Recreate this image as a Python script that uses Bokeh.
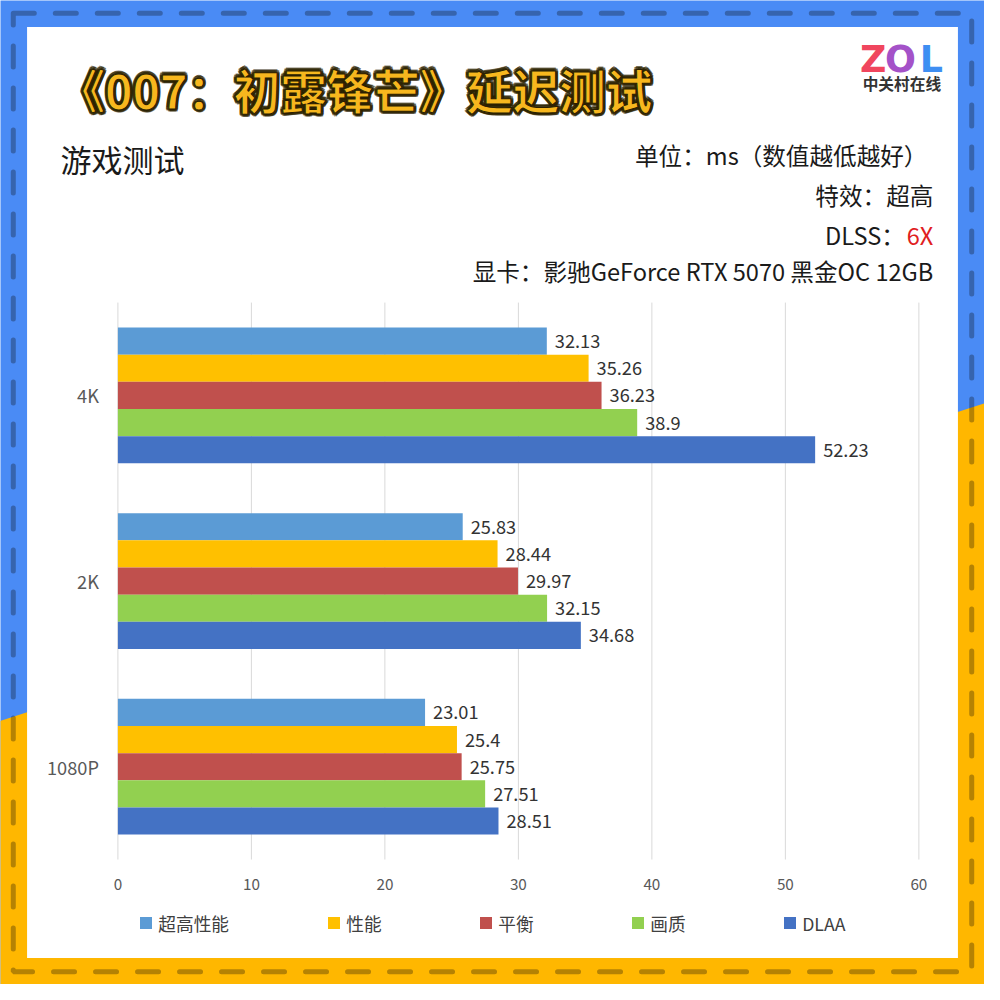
from bokeh.plotting import figure
from bokeh.models import (Range1d, Label, BoxAnnotation, PolyAnnotation, FixedTicker,
                          Legend, LegendItem, ColumnDataSource, LinearAxis)
from bokeh.core.properties import value
from bokeh.embed import file_html
from bokeh.resources import INLINE

# ---------------- data ----------------
categories = ["1080P", "2K", "4K"]          # bottom -> top
series_names = ["超高性能", "性能", "平衡", "画质", "DLAA"]
series_colors = ["#5B9BD5", "#FFC000", "#C0504D", "#92D050", "#4472C4"]
v_ultra_perf = [23.01, 25.83, 32.13]
v_perf = [25.4, 28.44, 35.26]
v_balanced = [25.75, 29.97, 36.23]
v_quality = [27.51, 32.15, 38.9]
v_dlaa = [28.51, 34.68, 52.23]
series_values = [v_ultra_perf, v_perf, v_balanced, v_quality, v_dlaa]
x_ticks = [0, 10, 20, 30, 40, 50, 60]

title_text = "《007：初露锋芒》延迟测试"
subtitle_text = "游戏测试"
info_lines = ["单位：ms（数值越低越好）", "特效：超高", "DLSS：", "显卡：影驰GeForce RTX 5070 黑金OC 12GB"]
dlss_value = "6X"

FONT = "Noto Sans CJK SC"

# ---------------- layout geometry (reference pixels, scaled to canvas) ----------------
W = H = 984
K = W / 1000.0
PL, PR, PT, PB = 119.3, 933.3, 307.0, 873.0   # plot area in reference pixels
XMIN, XMAX = 0, 60
ux = (PR - PL) / (XMAX - XMIN)
band = (PB - PT) / len(categories)
x_start = (0 - PL) / ux
x_end = (1000 - PL) / ux
c0 = PB - band / 2
y_start = (c0 - 1000) / band
y_end = c0 / band

def fs(v):
    return f"{v * K:.1f}px"

p = figure(width=W, height=H, output_backend="svg", toolbar_location=None,
           x_range=Range1d(x_start, x_end), y_range=Range1d(y_start, y_end),
           min_border=0, min_border_left=0, min_border_right=0,
           min_border_top=0, min_border_bottom=0,
           x_axis_type=None, y_axis_type=None)
p.border_fill_color = "#4A8BF5"
p.background_fill_color = "#4A8BF5"
p.outline_line_color = None
p.xgrid.visible = False
p.ygrid.visible = False

# background decorations (canvas units)
p.add_layout(PolyAnnotation(xs=[-5, 990, 990, -5], ys=[0.732 * W + 1.6, 0.409 * W - 1.6, 990, 990],
                            xs_units="canvas", ys_units="canvas",
                            fill_color="#FFB700", fill_alpha=1, line_alpha=0, level="image"))
p.add_layout(BoxAnnotation(left=27 * K, right=973 * K, top=27 * K, bottom=973 * K,
                           left_units="canvas", right_units="canvas", top_units="canvas", bottom_units="canvas",
                           fill_color="white", fill_alpha=1, line_alpha=0, level="image"))
p.add_layout(BoxAnnotation(left=13 * K, right=987 * K, top=13 * K, bottom=987 * K,
                           left_units="canvas", right_units="canvas", top_units="canvas", bottom_units="canvas",
                           fill_alpha=0, line_color="#0A0A0A", line_width=5, line_dash="21 21",
                           line_cap="round", level="image"))

# grid lines limited to the plot area
p.segment(x0=x_ticks, x1=x_ticks, y0=[-0.5] * len(x_ticks), y1=[len(categories) - 0.5] * len(x_ticks),
          line_color="#D9D9D9", line_width=1)

# ---------------- bars ----------------
cat_pos = list(range(len(categories)))
bar_h = 27.6 / band
offsets = [2 * bar_h, bar_h, 0, -bar_h, -2 * bar_h]
renderers = []
for name, vals, col, off in zip(series_names, series_values, series_colors, offsets):
    src = ColumnDataSource(dict(y=[c + off for c in cat_pos], val=vals, lab=[str(v) for v in vals]))
    r = p.hbar(y="y", right="val", left=0, height=bar_h, fill_color=col, line_color=None, source=src)
    renderers.append(r)
    p.text(x="val", y="y", text="lab", source=src,
           x_offset=8, text_align="left", text_baseline="middle",
           text_font=value(FONT), text_font_size=fs(18.5), text_color="#333333")

# ---------------- axes (fixed inside the canvas) ----------------
xaxis = LinearAxis(fixed_location=-0.5, ticker=FixedTicker(ticks=x_ticks))
xaxis.axis_line_color = None
xaxis.major_tick_line_color = None
xaxis.minor_tick_line_color = None
xaxis.major_tick_out = 0
xaxis.major_tick_in = 0
xaxis.major_label_standoff = 18
xaxis.major_label_text_font = FONT
xaxis.major_label_text_font_size = fs(15.5)
xaxis.major_label_text_color = "#595959"
p.add_layout(xaxis, "below")

yaxis = LinearAxis(fixed_location=0, ticker=FixedTicker(ticks=cat_pos),
                   major_label_overrides={i: c for i, c in enumerate(categories)})
yaxis.axis_line_color = None
yaxis.major_tick_line_color = None
yaxis.minor_tick_line_color = None
yaxis.major_tick_out = 0
yaxis.major_tick_in = 0
yaxis.major_label_standoff = 19
yaxis.major_label_text_font = FONT
yaxis.major_label_text_font_size = fs(18.5)
yaxis.major_label_text_color = "#595959"
p.add_layout(yaxis, "left")

# ---------------- legend ----------------
def make_legend(items, loc):
    lg = Legend(items=items, location=loc, orientation="horizontal",
                glyph_width=15, glyph_height=15, label_standoff=5,
                label_width=118, spacing=14, padding=0, margin=0,
                border_line_color=None, background_fill_alpha=0,
                label_text_font=FONT, label_text_font_size=fs(18),
                label_text_color="#404040")
    p.add_layout(lg, "center")

leg_y = H - 940 * K - 11
make_legend([LegendItem(label=series_names[0], renderers=[renderers[0]])], (140.5 * K, leg_y))
make_legend([LegendItem(label=n, renderers=[r]) for n, r in zip(series_names[1:], renderers[1:])],
            (331.5 * K, leg_y))

# ---------------- texts ----------------
def lab(text, x, y, size, color="#1A1A1A", align="left", style="normal", font=FONT, **kw):
    l = Label(x=x * K, y=y * K, x_units="canvas", y_units="canvas", text=text,
              text_font=font, text_font_size=fs(size), text_color=color,
              text_align=align, text_baseline="middle", text_font_style=style, **kw)
    p.add_layout(l)
    return l

# title: soft dark halo + outlined gold text
TX, TY, TS = 59, 89, 47.3
for dx, dy in [(-2.2, 0), (2.2, 0), (0, -2.2), (0, 2.2), (-1.6, -1.6), (1.6, -1.6), (-1.6, 1.6), (1.6, 1.6), (1.5, 2.5)]:
    lab(title_text, TX + dx, TY + dy, TS, color="#2B2200", style="bold", text_alpha=0.55,
        text_outline_color="#2B2200")
lab(title_text, TX, TY, TS, color="#F7B71E", style="bold", text_outline_color="#2B1E00")

lab(subtitle_text, 61, 161, 31.5)
lab(info_lines[0], 942, 157, 24, align="right")
lab(info_lines[1], 948, 198, 24, align="right")
lab(info_lines[2], 919, 238, 24, align="right")
lab(dlss_value, 948, 238, 24, color="#E0201E", align="right")
lab(info_lines[3], 948, 275, 24, align="right")

# logo
lab("Z", 887, 60, 37, color="#F0465E", align="center", style="bold", font="DejaVu Sans")
lab("O", 914.5, 60, 37, color="#A452C8", align="center", style="bold", font="DejaVu Sans")
lab("L", 946, 60, 37, color="#3E8EF2", align="center", style="bold", font="DejaVu Sans")
lab("中关村在线", 916, 84, 16, color="#333333", align="center", style="bold")

open("out.html", "w").write(file_html(p, INLINE))
